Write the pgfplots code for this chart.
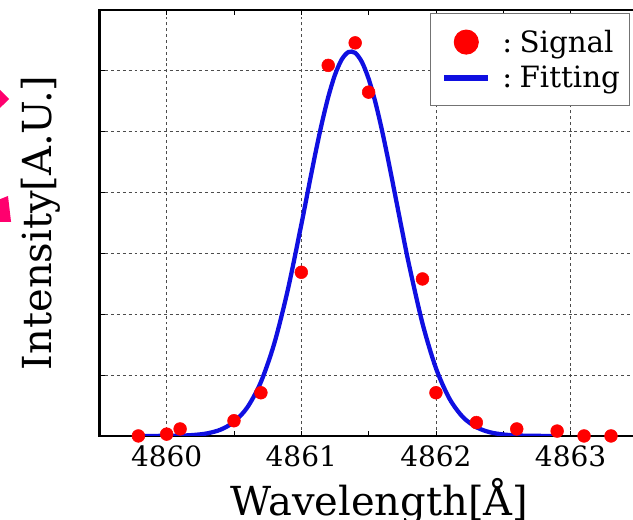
\documentclass[border=0pt]{standalone}
\usepackage{fontspec}
\setmainfont{DejaVu Serif}
\usepackage{pgfplots}
\pgfplotsset{compat=1.18}
\definecolor{fitblue}{RGB}{15,15,225}
\definecolor{pinkm}{RGB}{255,0,110}
\newcommand{\tl}[1]{\hbox{\fontsize{21}{21}\selectfont\rmfamily #1}}
\begin{document}
\begin{tikzpicture}
\begin{axis}[
  scale only axis, width=404pt, height=319.5pt,
  xmin=4859.5, xmax=4863.5, ymin=0, ymax=7,
  xtick={4860,4861,4862,4863},
  xticklabels={\tl{4860},\tl{4861},\tl{4862},\tl{4863}},
  minor xtick={4860.5,4861.5,4862.5},
  ytick={0,1,2,3,4,5,6,7}, yticklabels={},
  grid=major,
  major grid style={dash pattern=on 2.2pt off 2.2pt, line width=0.6pt, black!70},
  tick align=inside, major tick length=4pt, minor tick length=4pt,
  tick style={black, line width=0.6pt},
  axis line style={line width=1.8pt},
  x tick label style={yshift=-4pt},
  xlabel={Wavelength[\AA]},
  ylabel={Intensity[A.U.]},
  xlabel style={font=\fontsize{30}{30}\selectfont, at={(axis description cs:0.52,0)}, anchor=base, yshift=-60pt},
  ylabel style={font=\fontsize{30}{30}\selectfont, at={(axis description cs:-0.108,0.5)}, anchor=center, rotate=0},
  reverse legend,
  legend style={at={(axis description cs:0.985,0.992)}, anchor=north east,
    draw=black!55, line width=0.8pt, fill=white,
    font=\fontsize{22}{22}\selectfont, inner xsep=5pt, inner ysep=10pt,
    row sep=5pt,
    nodes={inner sep=2pt}},
  legend cell align=left,
]
\addplot[fitblue, line width=3.2pt, smooth,
  legend image code/.code={\path (0pt,0pt) (44pt,0pt);
    \draw[fitblue, line width=4.5pt] (4pt,0pt) -- (37pt,0pt);}]
coordinates {
(4859.8,0.0001) (4860.0,0.0017) (4860.1,0.0054) (4860.2,0.0158) (4860.3,0.042)
(4860.4,0.103) (4860.5,0.230) (4860.6,0.472) (4860.7,0.886) (4860.8,1.525)
(4860.9,2.403) (4861.0,3.472) (4861.05,4.037) (4861.1,4.594) (4861.15,5.113)
(4861.2,5.569) (4861.25,5.934) (4861.3,6.186) (4861.35,6.309) (4861.4,6.295)
(4861.45,6.146) (4861.5,5.869) (4861.55,5.485) (4861.6,5.014) (4861.65,4.485)
(4861.7,3.924) (4861.75,3.360) (4861.8,2.814) (4861.9,1.849) (4862.0,1.113)
(4862.1,0.614) (4862.2,0.310) (4862.3,0.144) (4862.4,0.061) (4862.5,0.024)
(4862.6,0.0084) (4862.7,0.0027) (4862.8,0.0008) (4862.9,0.0002)
};
\addlegendentry{:\hspace{0.25em}Fitting}
\addplot[only marks, mark=*, mark size=4.8pt, color=red, mark options={fill=red, draw=red},
  legend image code/.code={\path (0pt,0pt) (44pt,0pt);
    \fill[red] (20.5pt,0pt) circle (9pt);}]
coordinates {
(4859.79,0.0) (4860.0,0.03) (4860.1,0.115) (4860.5,0.25) (4860.7,0.71)
(4861.0,2.69) (4861.2,6.09) (4861.4,6.46) (4861.5,5.65) (4861.9,2.58)
(4862.0,0.71) (4862.3,0.22) (4862.6,0.115) (4862.9,0.08) (4863.1,0.0)
(4863.3,0.0)
};
\addlegendentry{:\hspace{0.25em}Signal}
\end{axis}
\fill[pinkm] (-74.5pt,259.5pt) -- (-67.7pt,252.75pt) -- (-74.5pt,246pt) -- cycle;
\fill[pinkm] (-76pt,177pt) -- (-68.5pt,180pt) -- (-66.2pt,160.5pt) -- (-76pt,160.5pt) -- cycle;
\pgfresetboundingbox
\path[use as bounding box] (-74.5pt,-63pt) rectangle (400.3pt,327pt);
\end{tikzpicture}
\end{document}
